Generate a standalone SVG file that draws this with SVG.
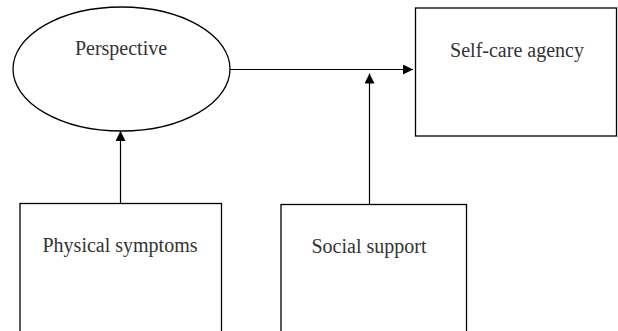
<svg xmlns="http://www.w3.org/2000/svg" width="618" height="331" viewBox="0 0 618 331">
<style>
.shape{fill:#fff;stroke:#000;stroke-width:1.3}
.lbl{font-family:"Liberation Serif","DejaVu Serif",serif;font-size:20px;fill:#333;text-anchor:middle}
.conn{stroke:#000;stroke-width:1.2;fill:none}
</style>
<defs>
<marker id="arr" viewBox="0 0 10 10" refX="10" refY="5" markerWidth="10" markerHeight="10" markerUnits="userSpaceOnUse" orient="auto">
<path d="M0,0 L10,5 L0,10 Z" fill="#000"/>
</marker>
</defs>
<rect width="618" height="331" fill="#fff"/>
<g id="perspective">
<ellipse class="shape" cx="121.5" cy="69" rx="108.5" ry="62"/>
<text class="lbl" x="121" y="55">Perspective</text>
</g>
<g id="self-care">
<rect class="shape" x="415.5" y="8" width="201" height="128"/>
<text class="lbl" x="517" y="57">Self-care agency</text>
</g>
<g id="physical">
<rect class="shape" x="20" y="203.5" width="201.5" height="140"/>
<text class="lbl" x="120" y="252">Physical symptoms</text>
</g>
<g id="social">
<rect class="shape" x="281" y="204.5" width="185.5" height="140"/>
<text class="lbl" x="369" y="253">Social support</text>
</g>
<g id="connectors">
<line class="conn" x1="230" y1="69.5" x2="413" y2="69.5" marker-end="url(#arr)"/>
<line class="conn" x1="120.5" y1="203.5" x2="120.5" y2="131" marker-end="url(#arr)"/>
<line class="conn" x1="369.5" y1="204.5" x2="369.5" y2="73.5" marker-end="url(#arr)"/>
</g>
</svg>
